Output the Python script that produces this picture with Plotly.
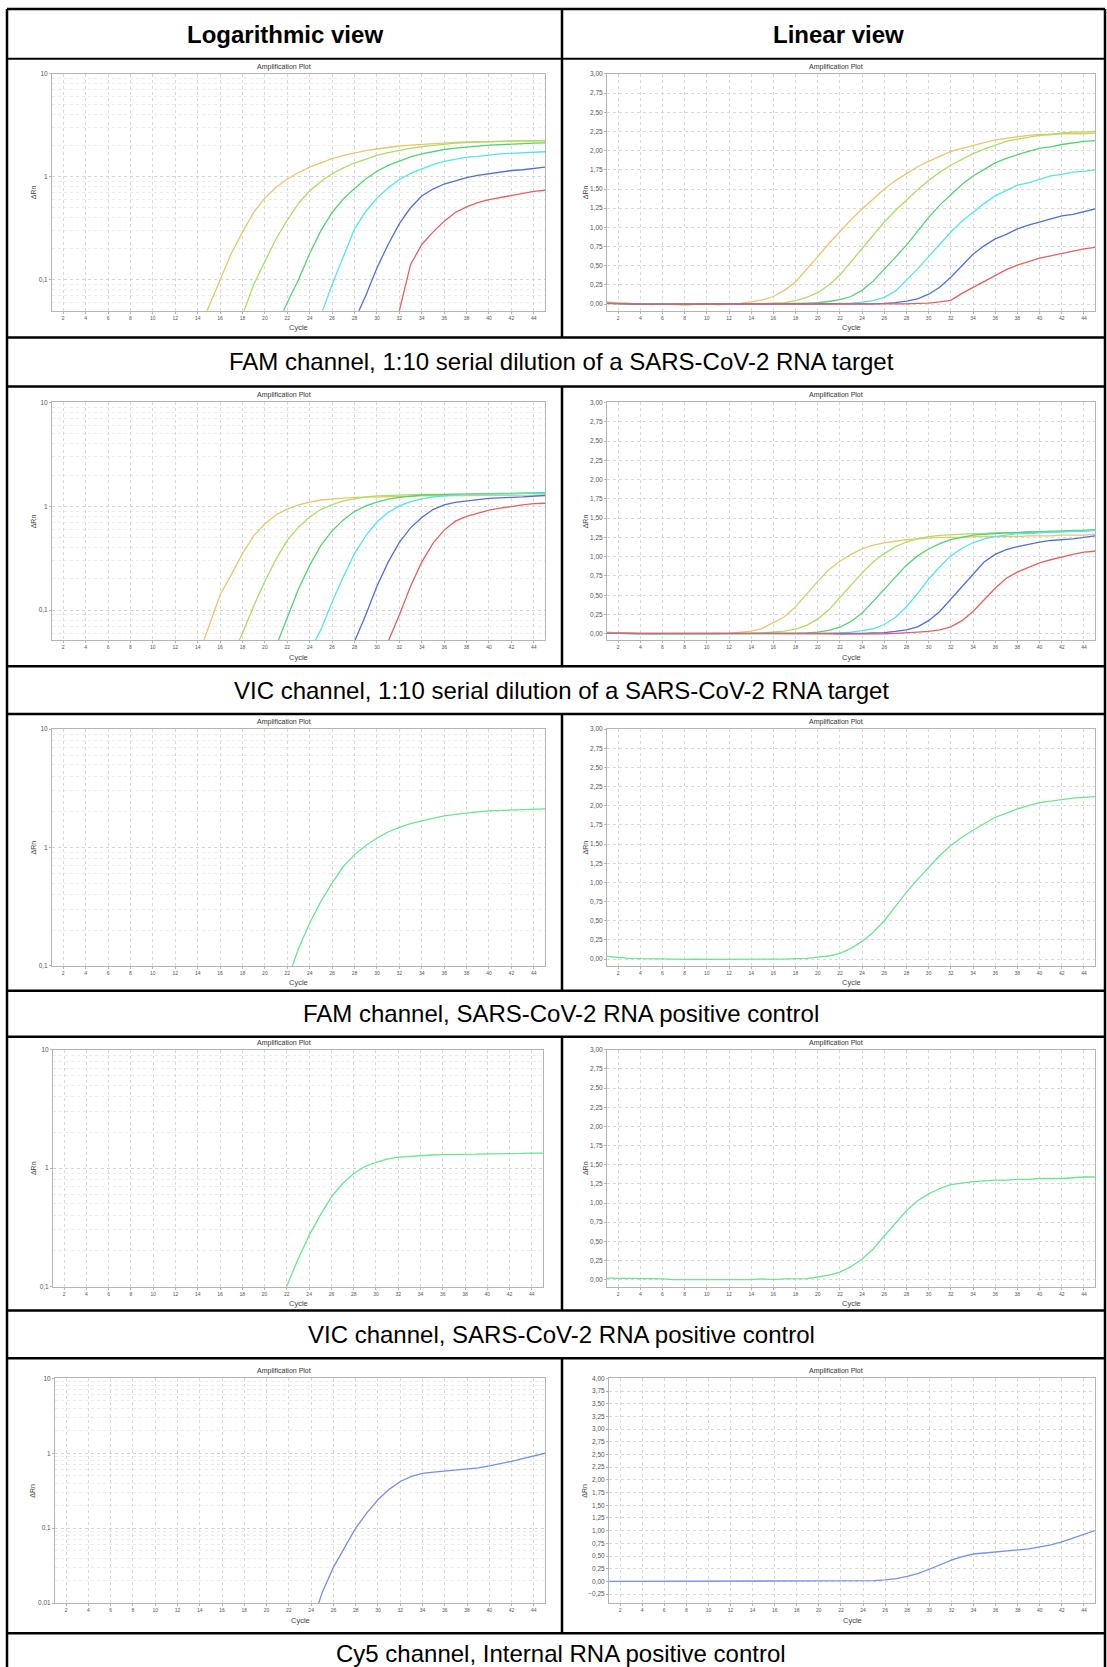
import plotly.graph_objects as go

W, H = 1107, 1667

# ---------------- data (ΔRn per cycle) ----------------
cycles = list(range(1, 46))

# FAM channel, 1:10 serial dilution
fam_dil_1 = [0.03, 0.02, 0.01, 0.0, 0.0, 0.0, -0.005, -0.01, 0.0, 0.0, -0.005, 0.0, 0.01, 0.03, 0.055,
             0.10, 0.18, 0.29, 0.45, 0.62, 0.79, 0.95, 1.10, 1.24, 1.37, 1.50, 1.61, 1.70, 1.79, 1.86,
             1.93, 1.99, 2.03, 2.07, 2.11, 2.14, 2.16, 2.18, 2.20, 2.21, 2.21, 2.22, 2.22, 2.22, 2.23]
fam_dil_2 = [0.02, 0.01, 0.0, 0.0, -0.005, 0.0, 0.0, -0.01, -0.005, 0.0, -0.005, 0.0, 0.0, 0.0, 0.005,
             0.01, 0.02, 0.045, 0.09, 0.15, 0.25, 0.38, 0.55, 0.73, 0.90, 1.07, 1.22, 1.36, 1.49, 1.61,
             1.72, 1.81, 1.89, 1.96, 2.02, 2.07, 2.12, 2.15, 2.18, 2.20, 2.21, 2.23, 2.24, 2.24, 2.25]
fam_dil_3 = [0.01, 0.01, 0.005, 0.0, 0.0, 0.0, -0.005, 0.0, 0.0, 0.0, 0.0, -0.005, 0.0, 0.0, 0.0,
             0.005, 0.005, 0.01, 0.015, 0.02, 0.035, 0.06, 0.10, 0.18, 0.30, 0.45, 0.61, 0.77, 0.95, 1.13,
             1.29, 1.43, 1.56, 1.67, 1.76, 1.84, 1.90, 1.95, 1.99, 2.03, 2.05, 2.08, 2.10, 2.12, 2.13]
fam_dil_4 = [0.02, 0.01, 0.01, 0.0, 0.0, 0.0, 0.0, 0.0, 0.0, 0.0, 0.0, -0.005, 0.0, 0.0, 0.0,
             0.0, 0.0, 0.0, 0.005, 0.005, 0.005, 0.01, 0.015, 0.025, 0.045, 0.09, 0.17, 0.31, 0.46, 0.62,
             0.78, 0.94, 1.08, 1.20, 1.31, 1.41, 1.48, 1.55, 1.58, 1.63, 1.67, 1.69, 1.72, 1.73, 1.75]
fam_dil_5 = [0.01, 0.005, 0.005, 0.0, 0.0, 0.0, 0.0, 0.005, 0.0, 0.0, 0.0, 0.0, 0.0, 0.0, 0.0,
             0.0, 0.0, 0.0, 0.0, 0.0, 0.0, 0.0, 0.005, 0.005, 0.005, 0.01, 0.02, 0.04, 0.07, 0.13,
             0.22, 0.35, 0.50, 0.65, 0.76, 0.85, 0.91, 0.98, 1.03, 1.07, 1.12, 1.15, 1.17, 1.21, 1.24]
fam_dil_6 = [0.01, 0.005, 0.0, 0.0, 0.0, 0.0, 0.0, 0.0, 0.0, 0.0, 0.0, 0.0, 0.0, 0.0, 0.0,
             0.0, 0.0, 0.0, 0.0, 0.0, 0.0, 0.0, 0.0, 0.0, 0.0, 0.0, 0.005, 0.005, 0.01, 0.015,
             0.03, 0.05, 0.14, 0.22, 0.29, 0.37, 0.45, 0.51, 0.56, 0.60, 0.63, 0.66, 0.69, 0.72, 0.74]

# VIC channel, 1:10 serial dilution
vic_dil_1 = [0.02, 0.01, 0.005, 0.0, 0.0, 0.0, 0.0, -0.005, 0.0, -0.005, 0.0, 0.005, 0.02, 0.035, 0.07,
             0.14, 0.22, 0.35, 0.52, 0.68, 0.83, 0.94, 1.03, 1.10, 1.15, 1.18, 1.20, 1.22, 1.23, 1.24,
             1.25, 1.25, 1.25, 1.26, 1.26, 1.26, 1.26, 1.26, 1.27, 1.27, 1.27, 1.28, 1.28, 1.28, 1.29]
vic_dil_2 = [0.015, 0.01, 0.0, -0.005, -0.005, 0.0, 0.0, 0.0, 0.0, 0.0, 0.0, 0.0, 0.0, 0.005, 0.01,
             0.02, 0.035, 0.06, 0.11, 0.19, 0.31, 0.47, 0.63, 0.79, 0.93, 1.04, 1.13, 1.19, 1.235, 1.26,
             1.275, 1.285, 1.29, 1.30, 1.30, 1.31, 1.31, 1.31, 1.32, 1.32, 1.32, 1.33, 1.33, 1.34, 1.34]
vic_dil_3 = [0.01, 0.005, 0.0, 0.0, 0.0, 0.0, 0.0, 0.0, 0.0, 0.0, 0.0, 0.0, 0.0, 0.0, 0.0,
             0.0, 0.005, 0.005, 0.01, 0.02, 0.045, 0.085, 0.16, 0.27, 0.42, 0.58, 0.74, 0.89, 1.01, 1.10,
             1.17, 1.22, 1.25, 1.28, 1.29, 1.30, 1.31, 1.31, 1.32, 1.32, 1.33, 1.33, 1.34, 1.34, 1.35]
vic_dil_4 = [0.01, 0.005, 0.0, 0.0, 0.0, 0.0, 0.0, 0.0, 0.0, 0.0, 0.0, 0.0, 0.0, 0.0, 0.0,
             0.0, 0.0, 0.0, 0.0, 0.0, 0.005, 0.01, 0.02, 0.04, 0.065, 0.12, 0.21, 0.35, 0.52, 0.71,
             0.87, 1.01, 1.11, 1.18, 1.23, 1.26, 1.28, 1.30, 1.30, 1.31, 1.32, 1.32, 1.33, 1.33, 1.34]
vic_dil_5 = [0.005, 0.005, 0.0, 0.0, 0.0, 0.0, 0.0, 0.0, 0.0, 0.005, 0.005, 0.0, 0.0, 0.0, 0.0,
             0.0, 0.0, 0.0, 0.0, 0.0, 0.0, 0.0, 0.005, 0.005, 0.01, 0.015, 0.03, 0.05, 0.09, 0.17,
             0.29, 0.45, 0.62, 0.78, 0.93, 1.03, 1.09, 1.13, 1.16, 1.19, 1.21, 1.22, 1.23, 1.25, 1.27]
vic_dil_6 = [0.005, 0.005, 0.0, 0.0, 0.0, 0.0, 0.0, 0.0, 0.0, 0.0, 0.0, 0.0, 0.0, 0.0, 0.0,
             0.0, 0.0, 0.0, 0.0, 0.0, 0.0, -0.005, -0.005, 0.0, 0.0, 0.0, 0.005, 0.01, 0.02, 0.03,
             0.05, 0.09, 0.17, 0.29, 0.44, 0.59, 0.72, 0.80, 0.86, 0.92, 0.96, 1.00, 1.03, 1.06, 1.07]

# Positive controls
fam_pc = [0.035, 0.02, 0.01, 0.005, 0.005, 0.0, 0.0, -0.005, 0.0, -0.005, -0.005, -0.005, -0.005, -0.005, 0.0,
          -0.005, 0.0, 0.005, 0.01, 0.025, 0.04, 0.075, 0.14, 0.23, 0.35, 0.50, 0.69, 0.87, 1.04, 1.20,
          1.35, 1.48, 1.59, 1.68, 1.77, 1.85, 1.90, 1.96, 2.00, 2.04, 2.06, 2.08, 2.10, 2.11, 2.12]
vic_pc = [0.02, 0.02, 0.015, 0.015, 0.015, 0.01, 0.0, 0.0, 0.0, 0.0, 0.0, 0.0, 0.0, 0.0, 0.01,
          0.0, 0.01, 0.01, 0.015, 0.035, 0.06, 0.10, 0.17, 0.27, 0.40, 0.57, 0.74, 0.90, 1.03, 1.12,
          1.19, 1.24, 1.26, 1.28, 1.29, 1.30, 1.30, 1.31, 1.31, 1.32, 1.32, 1.32, 1.33, 1.34, 1.34]
cy5_ic = [0.0, 0.0, 0.0, 0.0, 0.0, 0.0, 0.0, 0.0, 0.0, 0.0, 0.0, 0.0, 0.0, 0.0, 0.0,
          0.0, 0.0, 0.0, 0.0, 0.0, 0.0, 0.0, 0.0, 0.005, 0.014, 0.03, 0.055, 0.10, 0.16, 0.24,
          0.33, 0.42, 0.49, 0.54, 0.56, 0.58, 0.60, 0.62, 0.64, 0.68, 0.72, 0.78, 0.85, 0.93, 1.00]

dilution_colors = ["#ecc46a", "#a9df62", "#4fd46e", "#52e6ea", "#4f6fe0", "#e85f5f"]
fam_pc_color = "#66e88c"
vic_pc_color = "#66e88c"
cy5_color = "#7190f2"

x_ticks = list(range(2, 45, 2))
log_ticks = [0.01, 0.1, 1, 10]
log_ticktext = ["0,01", "0,1", "1", "10"]

header_texts = ["Logarithmic view", "Linear view"]
captions = ["FAM channel, 1:10 serial dilution of a SARS-CoV-2 RNA target",
            "VIC channel, 1:10 serial dilution of a SARS-CoV-2 RNA target",
            "FAM channel, SARS-CoV-2 RNA positive control",
            "VIC channel, SARS-CoV-2 RNA positive control",
            "Cy5 channel, Internal RNA positive control"]

rows_series = [
    list(zip([fam_dil_1, fam_dil_2, fam_dil_3, fam_dil_4, fam_dil_5, fam_dil_6], dilution_colors)),
    list(zip([vic_dil_1, vic_dil_2, vic_dil_3, vic_dil_4, vic_dil_5, vic_dil_6], dilution_colors)),
    [(fam_pc, fam_pc_color)],
    [(vic_pc, vic_pc_color)],
    [(cy5_ic, cy5_color)],
]

# ---------------- layout geometry (pixels) ----------------
FONT = "Liberation Sans, Arial, sans-serif"
row_plot_y = [(70, 308), (400, 639), (728, 966), (1050, 1288), (1380, 1606)]
left_x = [(52, 545), (52, 545), (52, 545), (53, 543), (55, 545)]
right_x = [(607, 1095), (607, 1095), (607, 1095), (607, 1095), (609, 1095)]
log_ranges = [(-1.301, 1.001), (-1.29, 1.001), (-1.001, 1.001), (-1.001, 1.001), (-2.001, 1.001)]
lin_ranges = [(-0.085, 3.002), (-0.085, 3.002), (-0.09, 3.002), (-0.09, 3.002), (-0.43, 4.003)]
title_y = [63, 393, 721, 1043, 1373]

TL, TR, TOP = 7, 1105, 5
DIV = 562
hlines = [5, 55, 335, 384, 665, 713, 991, 1037, 1312, 1360, 1636]
caption_y = [359, 689, 1014, 1336, 1656]
plot_rows_span = [(5, 335), (384, 665), (713, 991), (1037, 1312), (1360, 1636)]


def px(x):
    return x / W


def py(y):
    return 1 - y / H


fig = go.Figure()
annotations = []
shapes = []
layout_axes = {}

GRID = "#d9d9d9"
AXLINE = "#b4b4b4"
TICKC = "#555555"

minor_log_vals = [m * 10 ** e for e in range(-3, 1) for m in range(2, 10)]

for r in range(5):
    y0, y1 = row_plot_y[r]
    for c in range(2):
        idx = r * 2 + c + 1
        xa = "xaxis" if idx == 1 else f"xaxis{idx}"
        ya = "yaxis" if idx == 1 else f"yaxis{idx}"
        xr = "x" if idx == 1 else f"x{idx}"
        yr = "y" if idx == 1 else f"y{idx}"
        x0, x1 = (left_x if c == 0 else right_x)[r]
        layout_axes[xa] = dict(
            domain=[px(x0), px(x1)], anchor=yr, range=[1, 45],
            tickmode="array", tickvals=x_ticks,
            tickfont=dict(size=5, color=TICKC, family=FONT),
            showgrid=True, gridcolor=GRID, griddash="dot", gridwidth=1,
            showline=True, linecolor=AXLINE, linewidth=1, mirror=True,
            ticks="outside", ticklen=2, tickcolor=AXLINE, zeroline=False,
            fixedrange=True,
        )
        if c == 0:
            layout_axes[ya] = dict(
                domain=[py(y1), py(y0)], anchor=xr, type="log",
                range=list(log_ranges[r]),
                tickmode="array", tickvals=log_ticks, ticktext=log_ticktext,
                tickfont=dict(size=6.5, color=TICKC, family=FONT),
                showgrid=True, gridcolor="#d4d4d4", griddash="dot", gridwidth=1,
                minor=dict(tickmode="array", tickvals=minor_log_vals, showgrid=True,
                           gridcolor="#ebebeb", griddash="dot", ticks=""),
                showline=True, linecolor=AXLINE, linewidth=1, mirror=True,
                ticks="outside", ticklen=2, tickcolor=AXLINE, zeroline=False,
                fixedrange=True,
            )
        else:
            layout_axes[ya] = dict(
                domain=[py(y1), py(y0)], anchor=xr,
                range=list(lin_ranges[r]), tick0=0, dtick=0.25, tickformat=".2f",
                tickfont=dict(size=6.5, color=TICKC, family=FONT),
                showgrid=True, gridcolor=GRID, griddash="dot", gridwidth=1,
                showline=True, linecolor=AXLINE, linewidth=1, mirror=True,
                ticks="outside", ticklen=2, tickcolor=AXLINE, zeroline=False,
                fixedrange=True,
            )
        for vals, col in rows_series[r]:
            fig.add_trace(go.Scatter(
                x=cycles, y=vals, mode="lines", xaxis=xr, yaxis=yr,
                line=dict(color=col, width=1.3), showlegend=False, hoverinfo="skip"))
        annotations.append(dict(
            text="Amplification Plot", x=px(284 if c == 0 else 836), y=py(title_y[r]),
            xref="paper", yref="paper", showarrow=False, xanchor="center", yanchor="middle",
            font=dict(size=7, color="#333333", family=FONT)))
        annotations.append(dict(
            text="Cycle", x=px((x0 + x1) / 2), y=py(y1 + 17),
            xref="paper", yref="paper", showarrow=False, xanchor="center", yanchor="middle",
            font=dict(size=7.5, color="#444444", family=FONT)))
        annotations.append(dict(
            text="ΔRn", x=px(33 if c == 0 else 585), y=py((y0 + y1) / 2),
            xref="paper", yref="paper", showarrow=False, xanchor="center", yanchor="middle",
            textangle=-90, font=dict(size=7, color="#444444", family=FONT)))

annotations.append(dict(text="<b>" + header_texts[0] + "</b>", x=px(285), y=py(31), xref="paper", yref="paper",
                        showarrow=False, xanchor="center", yanchor="middle",
                        font=dict(size=24, color="black", family=FONT)))
annotations.append(dict(text="<b>" + header_texts[1] + "</b>", x=px(838), y=py(31), xref="paper", yref="paper",
                        showarrow=False, xanchor="center", yanchor="middle",
                        font=dict(size=24, color="black", family=FONT)))
for cap, cy in zip(captions, caption_y):
    annotations.append(dict(text=cap, x=px(561), y=py(cy), xref="paper", yref="paper",
                            showarrow=False, xanchor="center", yanchor="middle",
                            font=dict(size=24, color="black", family=FONT)))

for i, hy in enumerate(hlines):
    shapes.append(dict(type="line", xref="paper", yref="paper", x0=px(TL), x1=px(TR),
                       y0=py(hy), y1=py(hy), line=dict(color="black", width=2.5 if i != 1 else 2)))
for (a, b) in plot_rows_span:
    shapes.append(dict(type="line", xref="paper", yref="paper", x0=px(DIV), x1=px(DIV),
                       y0=py(a), y1=py(b), line=dict(color="black", width=2.5)))
for vx in (TL, TR):
    shapes.append(dict(type="line", xref="paper", yref="paper", x0=px(vx), x1=px(vx),
                       y0=py(TOP), y1=py(H + 5), line=dict(color="black", width=2.5)))

fig.update_layout(
    width=W, height=H, margin=dict(l=0, r=0, t=0, b=0),
    paper_bgcolor="white", plot_bgcolor="white",
    separators=",.", font=dict(family=FONT),
    annotations=annotations, shapes=shapes, showlegend=False,
    **layout_axes,
)

fig.write_html("out.html", config={"displayModeBar": False},
               post_script="document.body.style.margin='0';document.body.style.overflow='hidden';")
